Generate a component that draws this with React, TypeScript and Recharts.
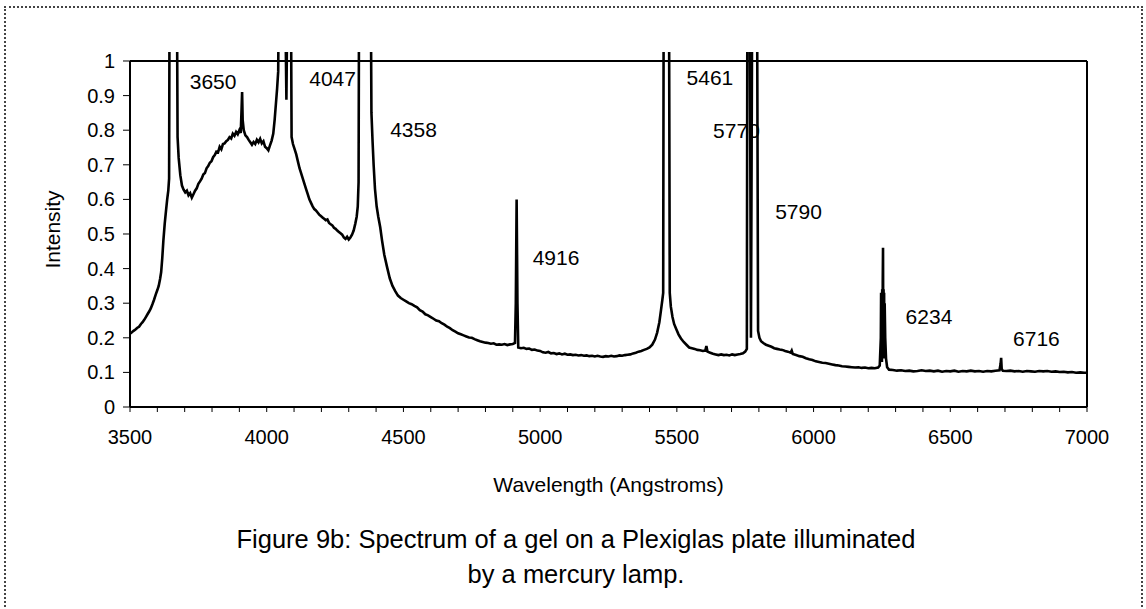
import { LineChart, Line, XAxis, YAxis, ReferenceLine, ReferenceDot } from 'recharts';

// wavelength (Angstroms), intensity
const spectrum: [number, number][] = [
  [3500, 0.212], [3507, 0.216], [3513, 0.22], [3520, 0.224], [3527, 0.229], [3533, 0.232], [3540, 0.24],
  [3546, 0.245], [3552, 0.252], [3558, 0.26], [3564, 0.268], [3570, 0.276], [3576, 0.285], [3582, 0.297],
  [3588, 0.31], [3594, 0.325], [3600, 0.338], [3605, 0.35], [3610, 0.37], [3614, 0.39], [3618, 0.43],
  [3622, 0.48], [3627, 0.53], [3632, 0.57], [3636, 0.6], [3640, 0.625], [3643, 0.66], [3645, 1.3],
  [3671, 1.3], [3674, 0.78], [3678, 0.72], [3684, 0.67], [3690, 0.64], [3696, 0.628], [3702, 0.62],
  [3708, 0.625], [3714, 0.612], [3720, 0.618], [3726, 0.605], [3732, 0.615], [3738, 0.625], [3744, 0.632],
  [3750, 0.645], [3756, 0.652], [3762, 0.66], [3768, 0.672], [3774, 0.676], [3780, 0.69], [3786, 0.696],
  [3792, 0.706], [3798, 0.71], [3804, 0.722], [3810, 0.728], [3816, 0.738], [3822, 0.736], [3828, 0.752],
  [3834, 0.745], [3840, 0.76], [3846, 0.762], [3852, 0.768], [3858, 0.772], [3864, 0.78], [3870, 0.776],
  [3876, 0.79], [3882, 0.784], [3888, 0.795], [3894, 0.788], [3900, 0.8], [3905, 0.792], [3908, 0.86],
  [3910, 0.91], [3912, 0.83], [3916, 0.8], [3922, 0.785], [3928, 0.78], [3934, 0.772], [3940, 0.765],
  [3946, 0.758], [3952, 0.766], [3958, 0.76], [3964, 0.772], [3970, 0.765], [3976, 0.775], [3982, 0.762],
  [3988, 0.768], [3994, 0.752], [4000, 0.748], [4006, 0.742], [4012, 0.756], [4018, 0.77], [4024, 0.79],
  [4029, 0.83], [4034, 0.88], [4038, 0.92], [4042, 0.97], [4045, 1.3], [4066, 1.3], [4072, 0.888],
  [4077, 1.3], [4088, 1.3], [4091, 0.78], [4096, 0.76], [4102, 0.745], [4108, 0.73], [4114, 0.71],
  [4120, 0.69], [4126, 0.675], [4132, 0.66], [4138, 0.645], [4144, 0.63], [4150, 0.615], [4156, 0.6],
  [4162, 0.59], [4168, 0.58], [4174, 0.572], [4180, 0.568], [4186, 0.562], [4192, 0.556], [4198, 0.552],
  [4204, 0.548], [4210, 0.544], [4216, 0.54], [4222, 0.542], [4228, 0.532], [4234, 0.528], [4240, 0.525],
  [4246, 0.518], [4252, 0.515], [4258, 0.51], [4264, 0.506], [4270, 0.502], [4276, 0.498], [4282, 0.49],
  [4288, 0.486], [4294, 0.492], [4300, 0.484], [4306, 0.49], [4312, 0.498], [4318, 0.51], [4324, 0.53],
  [4329, 0.55], [4333, 0.58], [4336, 0.65], [4338, 1.3], [4380, 1.3], [4383, 0.85], [4387, 0.77],
  [4391, 0.7], [4396, 0.63], [4402, 0.58], [4408, 0.55], [4415, 0.52], [4422, 0.48], [4430, 0.44],
  [4440, 0.405], [4450, 0.372], [4460, 0.35], [4470, 0.335], [4480, 0.322], [4490, 0.315], [4500, 0.31],
  [4510, 0.305], [4520, 0.3], [4530, 0.297], [4540, 0.292], [4550, 0.288], [4560, 0.28], [4570, 0.276],
  [4580, 0.268], [4590, 0.265], [4600, 0.26], [4610, 0.255], [4620, 0.25], [4630, 0.248], [4640, 0.242],
  [4650, 0.238], [4660, 0.232], [4670, 0.228], [4680, 0.222], [4690, 0.218], [4700, 0.213], [4710, 0.21],
  [4720, 0.207], [4730, 0.204], [4740, 0.201], [4750, 0.2], [4760, 0.196], [4770, 0.193], [4780, 0.19],
  [4790, 0.188], [4800, 0.186], [4810, 0.185], [4820, 0.183], [4830, 0.184], [4840, 0.18], [4850, 0.181],
  [4860, 0.18], [4870, 0.182], [4880, 0.179], [4890, 0.181], [4900, 0.182], [4908, 0.185], [4911, 0.3],
  [4914, 0.6], [4917, 0.3], [4920, 0.172], [4930, 0.17], [4940, 0.171], [4950, 0.168], [4960, 0.169],
  [4970, 0.165], [4980, 0.166], [4990, 0.163], [5000, 0.162], [5010, 0.158], [5020, 0.157], [5030, 0.159],
  [5040, 0.155], [5050, 0.156], [5060, 0.153], [5070, 0.155], [5080, 0.152], [5090, 0.154], [5100, 0.151],
  [5110, 0.152], [5120, 0.15], [5130, 0.151], [5140, 0.149], [5150, 0.15], [5160, 0.148], [5170, 0.149],
  [5180, 0.147], [5190, 0.148], [5200, 0.146], [5210, 0.148], [5220, 0.146], [5230, 0.145], [5240, 0.147],
  [5250, 0.146], [5260, 0.148], [5270, 0.146], [5280, 0.147], [5290, 0.149], [5300, 0.148], [5310, 0.15],
  [5320, 0.151], [5330, 0.152], [5340, 0.155], [5350, 0.157], [5360, 0.16], [5370, 0.162], [5380, 0.165],
  [5390, 0.168], [5400, 0.172], [5410, 0.18], [5420, 0.195], [5428, 0.215], [5436, 0.245], [5442, 0.28],
  [5447, 0.31], [5450, 0.33], [5452, 1.3], [5471, 1.3], [5474, 0.33], [5478, 0.29], [5484, 0.26],
  [5490, 0.24], [5498, 0.225], [5506, 0.21], [5515, 0.198], [5525, 0.188], [5535, 0.18], [5545, 0.172],
  [5555, 0.17], [5565, 0.168], [5575, 0.165], [5585, 0.164], [5595, 0.162], [5604, 0.163], [5608, 0.176],
  [5612, 0.16], [5622, 0.157], [5632, 0.154], [5642, 0.152], [5652, 0.15], [5662, 0.152], [5672, 0.15],
  [5682, 0.151], [5692, 0.149], [5702, 0.152], [5712, 0.15], [5722, 0.152], [5732, 0.153], [5742, 0.155],
  [5750, 0.16], [5756, 0.168], [5758, 1.3], [5766, 1.3], [5771, 0.2], [5776, 1.3], [5793, 1.3],
  [5797, 0.22], [5802, 0.2], [5808, 0.19], [5816, 0.185], [5826, 0.18], [5836, 0.177], [5846, 0.174],
  [5856, 0.17], [5866, 0.168], [5876, 0.166], [5886, 0.165], [5896, 0.162], [5906, 0.16], [5916, 0.157],
  [5920, 0.163], [5924, 0.153], [5936, 0.15], [5948, 0.147], [5960, 0.145], [5972, 0.141], [5984, 0.138],
  [5996, 0.136], [6008, 0.132], [6020, 0.13], [6032, 0.128], [6044, 0.127], [6056, 0.125], [6068, 0.123],
  [6080, 0.121], [6092, 0.12], [6104, 0.118], [6116, 0.117], [6128, 0.116], [6140, 0.115], [6152, 0.114],
  [6164, 0.115], [6176, 0.113], [6188, 0.114], [6200, 0.112], [6212, 0.113], [6224, 0.112], [6236, 0.114],
  [6242, 0.12], [6246, 0.2], [6247, 0.33], [6248, 0.14], [6249, 0.33], [6250, 0.13], [6251, 0.34],
  [6252, 0.14], [6253, 0.36], [6254, 0.46], [6255, 0.15], [6256, 0.34], [6257, 0.14], [6258, 0.33],
  [6259, 0.15], [6260, 0.3], [6262, 0.2], [6265, 0.14], [6269, 0.115], [6276, 0.108], [6290, 0.107],
  [6305, 0.105], [6320, 0.106], [6335, 0.104], [6350, 0.105], [6365, 0.103], [6380, 0.104], [6395, 0.106],
  [6410, 0.104], [6425, 0.105], [6440, 0.103], [6455, 0.105], [6470, 0.102], [6485, 0.104], [6500, 0.103],
  [6515, 0.105], [6530, 0.102], [6545, 0.104], [6560, 0.103], [6575, 0.105], [6590, 0.103], [6605, 0.104],
  [6620, 0.102], [6635, 0.104], [6650, 0.103], [6665, 0.105], [6680, 0.106], [6684, 0.125], [6686, 0.142],
  [6688, 0.11], [6692, 0.105], [6705, 0.104], [6720, 0.105], [6735, 0.103], [6750, 0.104], [6765, 0.102],
  [6780, 0.104], [6795, 0.103], [6810, 0.102], [6825, 0.104], [6840, 0.103], [6855, 0.104], [6870, 0.102],
  [6885, 0.103], [6900, 0.101], [6915, 0.102], [6930, 0.1], [6945, 0.101], [6960, 0.099], [6975, 0.1],
  [6990, 0.099], [7000, 0.099],
];

const peakNames = ['3650', '4047', '4358', '4916', '5461', '5770', '5790', '6234', '6716'];
// where each peak name sits, in chart units
const peakNameAt: [number, number][] = [
  [3804, 0.942], [4241, 0.948], [4537, 0.803], [5058, 0.431], [5621, 0.951],
  [5718, 0.798], [5945, 0.566], [6422, 0.26], [6815, 0.197],
];

const xTicks = [
  3500, 3600, 3700, 3800, 3900, 4000, 4100, 4200, 4300, 4400, 4500, 4600, 4700, 4800, 4900, 5000, 5100, 5200,
  5300, 5400, 5500, 5600, 5700, 5800, 5900, 6000, 6100, 6200, 6300, 6400, 6500, 6600, 6700, 6800, 6900, 7000,
];
const xLabels = [3500, 4000, 4500, 5000, 5500, 6000, 6500, 7000];
const yTicks = [0, 0.1, 0.2, 0.3, 0.4, 0.5, 0.6, 0.7, 0.8, 0.9, 1];

const data = spectrum.map(([w, v]) => ({ w, v }));
const font = '"Liberation Sans", Arial, Helvetica, sans-serif';

export default function App() {
  return (
    <div style={{ position: 'absolute', left: 0, top: 0, width: 1146, height: 609, background: '#fff', overflow: 'hidden', fontFamily: font }}>
      <div style={{ position: 'absolute', left: 4, top: 6, width: 1139, height: 640, border: '2px dotted #444', boxSizing: 'border-box' }} />
      <div style={{ position: 'absolute', left: 0, top: 0 }}>
        <LineChart width={1146} height={507} data={data} margin={{ top: 52, right: 59, left: 0, bottom: 0 }}>
          <XAxis
            dataKey="w"
            type="number"
            domain={[3500, 7000]}
            ticks={xTicks}
            interval={0}
            tickFormatter={(v: number) => (xLabels.includes(v) ? String(v) : '')}
            tickSize={5}
            tickMargin={18}
            height={100}
            axisLine={{ stroke: '#000', strokeWidth: 2 }}
            tickLine={{ stroke: '#000' }}
            tick={{ fill: '#000', fontSize: 20, fontFamily: font }}
            label={{ value: 'Wavelength (Angstroms)', position: 'insideBottom', offset: 15, fill: '#000', fontSize: 21, fontFamily: font }}
          />
          <YAxis
            type="number"
            domain={[0, 1.026]}
            allowDataOverflow
            ticks={yTicks}
            interval={0}
            tickFormatter={(v: number) => String(Math.round(v * 10) / 10)}
            width={130}
            tickSize={7}
            tickMargin={8}
            axisLine={false}
            tickLine={{ stroke: '#000' }}
            tick={{ fill: '#000', fontSize: 20, fontFamily: font }}
            label={{ value: 'Intensity', angle: -90, position: 'insideLeft', offset: 53, fill: '#000', fontSize: 21, fontFamily: font, style: { textAnchor: 'middle' } }}
          />
          <Line dataKey="v" type="linear" stroke="#000" strokeWidth={2.6} dot={false} activeDot={false} isAnimationActive={false} />
          <ReferenceLine y={1} stroke="#000" strokeWidth={2} />
          <ReferenceLine segment={[{ x: 3500, y: 0 }, { x: 3500, y: 1 }]} stroke="#000" strokeWidth={2} />
          <ReferenceLine segment={[{ x: 7000, y: 0 }, { x: 7000, y: 1 }]} stroke="#000" strokeWidth={2} />
          {peakNames.map((name, i) => (
            <ReferenceDot
              key={name}
              x={peakNameAt[i][0]}
              y={peakNameAt[i][1]}
              r={0}
              fill="none"
              stroke="none"
              label={{ value: name, position: 'center', fill: '#000', fontSize: 21, fontFamily: font }}
            />
          ))}
        </LineChart>
      </div>
      <div style={{ position: 'absolute', left: 126, top: 522, width: 900, textAlign: 'center', fontSize: 25.5, lineHeight: '35px', color: '#000' }}>
        Figure 9b: Spectrum of a gel on a Plexiglas plate illuminated
        <br />
        by a mercury lamp.
      </div>
    </div>
  );
}
